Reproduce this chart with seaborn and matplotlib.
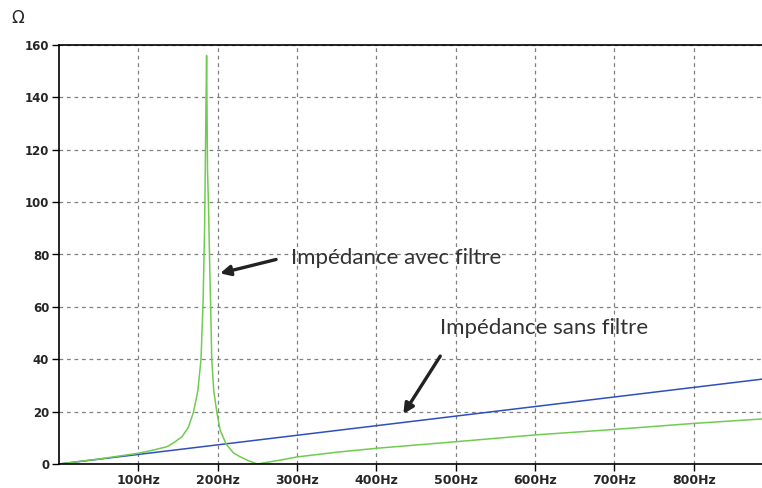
import pandas as pd
import matplotlib.pyplot as plt
import seaborn as sns

# Impédance avec filtre (vert)
freq_filtre = [0, 50, 100, 120, 136, 145, 155, 163, 169.4, 175, 179, 181.6, 183.5, 185, 186,
               187.2, 188.3, 190, 191, 192.5, 195, 199, 203, 210.6, 220, 228, 240, 250,
               279, 300, 350, 400, 500, 600, 700, 800, 886]
z_filtre = [0, 1.9, 4.1, 5.4, 6.6, 8.2, 10.4, 14, 19.7, 28, 40, 62, 90, 130, 156,
            112, 100, 75, 62, 40, 28, 19.7, 13, 7.6, 4.2, 2.8, 1.1, 0,
            1.5, 2.7, 4.5, 6.0, 8.5, 11.1, 13.2, 15.5, 17.2]

# Impédance sans filtre (bleu)
freq_sans = [0, 886]
z_sans = [0, 32.4]

x_ticks = [100, 200, 300, 400, 500, 600, 700, 800]
x_labels = ['100Hz', '200Hz', '300Hz', '400Hz', '500Hz', '600Hz', '700Hz', '800Hz']
y_ticks = [0, 20, 40, 60, 80, 100, 120, 140, 160]

sns.set_style('white')
plt.rcParams['font.family'] = ['DejaVu Sans']

fig = plt.figure(figsize=(7.62, 4.88), dpi=100)
ax = fig.add_axes([59 / 762, 24 / 488, 703 / 762, 419 / 488])

df_f = pd.DataFrame({'f': freq_filtre, 'z': z_filtre})
df_s = pd.DataFrame({'f': freq_sans, 'z': z_sans})
sns.lineplot(data=df_s, x='f', y='z', ax=ax, color='#2f4fbf', linewidth=1.1, sort=False)
sns.lineplot(data=df_f, x='f', y='z', ax=ax, color='#70cc50', linewidth=1.1, sort=False)

ax.set_xlim(0, 886)
ax.set_ylim(0, 160)
ax.set_xticks(x_ticks)
ax.set_xticklabels(x_labels, fontsize=9, fontweight='bold')
ax.set_yticks(y_ticks)
ax.set_yticklabels([str(v) for v in y_ticks], fontsize=8.5, fontweight='bold')
ax.set_xlabel('')
ax.set_ylabel('')
ax.grid(True, linestyle=(0, (3, 3)), color='#808080', linewidth=0.9)
ax.tick_params(axis='both', direction='out', length=5, width=1, color='black', pad=2)
ax.tick_params(axis='both', bottom=True, left=True)

for side in ['left', 'top', 'bottom']:
    ax.spines[side].set_color('black')
    ax.spines[side].set_linewidth(1.2)
ax.spines['right'].set_visible(False)

fig.text(18 / 762, 1 - 18 / 488, 'Ω', fontsize=12, ha='center', va='center')

txt_font = ['Lato', 'DejaVu Sans']
arrow_kw = dict(arrowstyle='-|>', color='#222222', lw=2.4, mutation_scale=15,
                shrinkA=0, shrinkB=0)

ax.text(292, 78.6, 'Impédance avec filtre', fontsize=16, family=txt_font,
        color='#333333', va='center', ha='left')
ax.annotate('', xy=(203, 72.8), xytext=(273.6, 78.1), arrowprops=arrow_kw)

ax.text(480, 52, 'Impédance sans filtre', fontsize=16, family=txt_font,
        color='#333333', va='center', ha='left')
ax.annotate('', xy=(434, 19.1), xytext=(480.5, 41.2), arrowprops=arrow_kw)

fig.savefig('out.png', dpi=100)
